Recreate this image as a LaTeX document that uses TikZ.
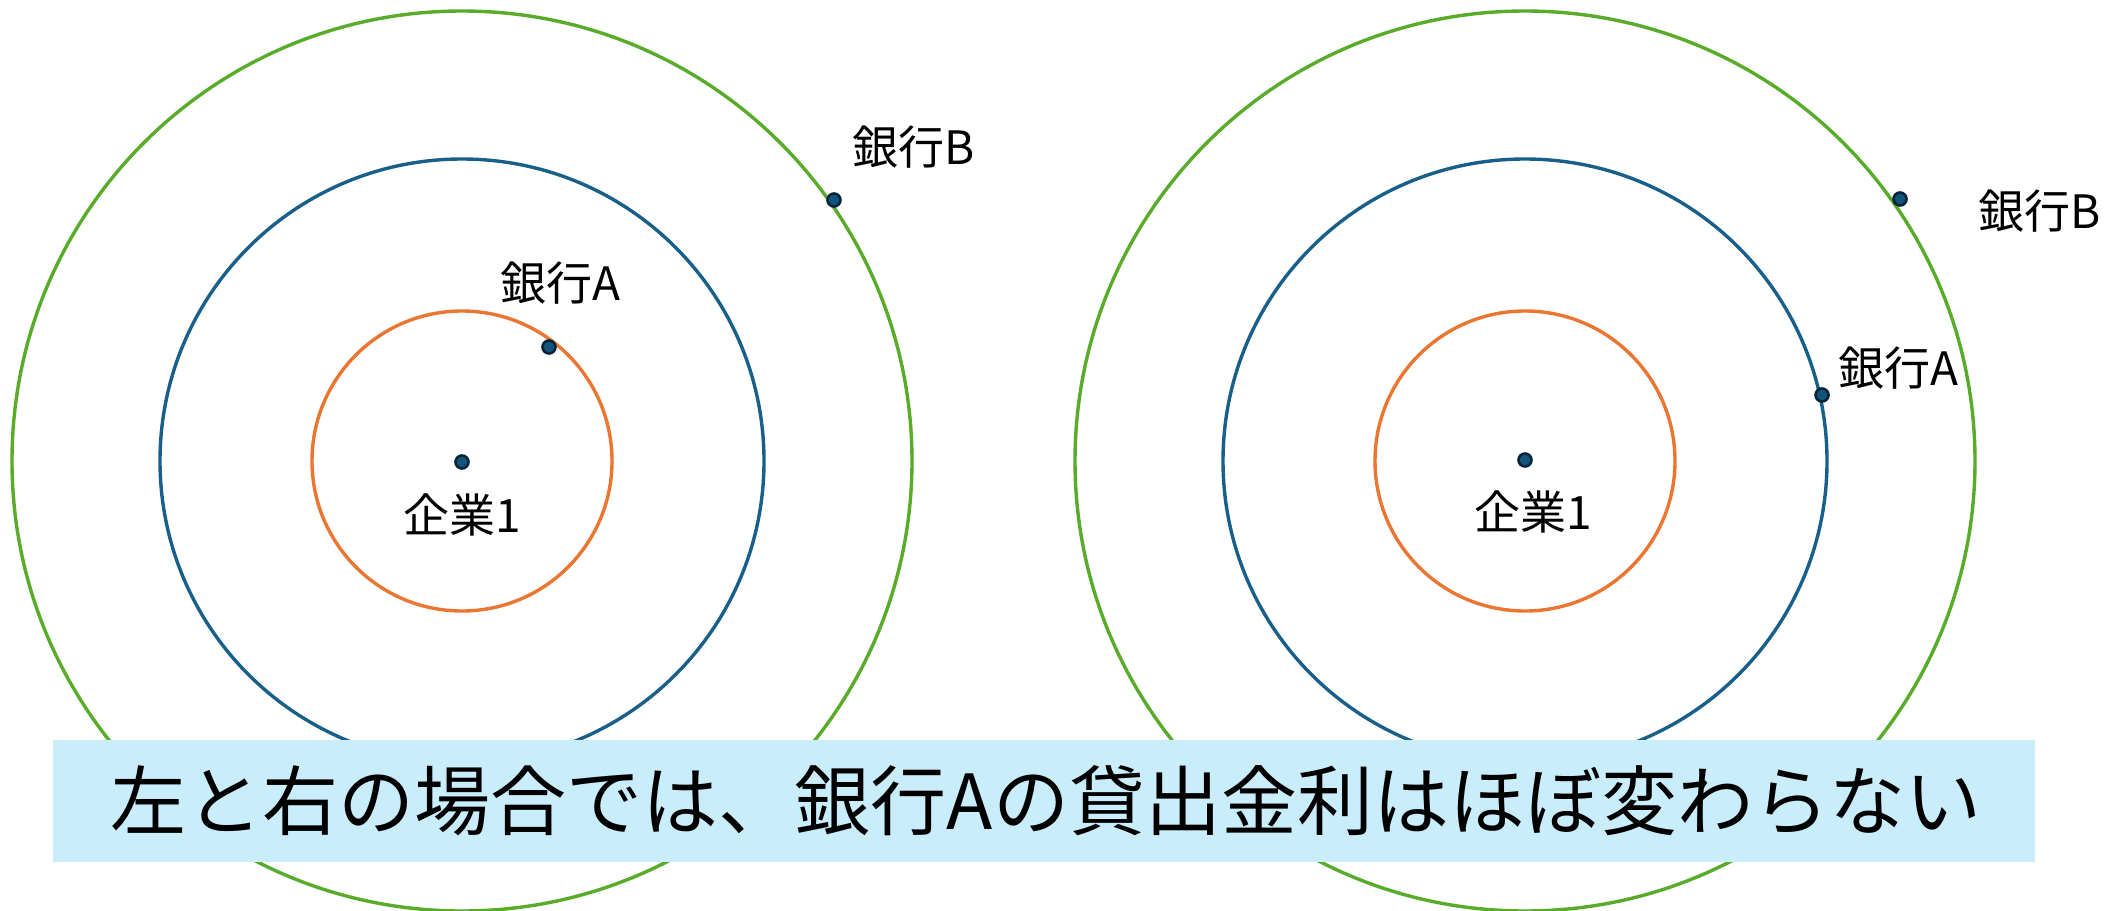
\documentclass[tikz,border=0pt]{standalone}
\usepackage{fontspec}
\setmainfont{Noto Sans CJK JP}
\definecolor{ringO}{RGB}{235,118,50}
\definecolor{ringB}{RGB}{24,96,138}
\definecolor{ringG}{RGB}{88,172,42}
\definecolor{dotfill}{RGB}{18,84,125}
\definecolor{dotline}{RGB}{8,36,56}
\definecolor{banner}{RGB}{202,237,251}
\begin{document}
\begin{tikzpicture}[x=1pt,y=-1pt,
  ring/.style={draw,line width=3.4pt},
  pt/.style={circle,draw=dotline,fill=dotfill,line width=2.6pt,inner sep=0pt,minimum size=13pt},
  lbl/.style={font=\fontsize{46}{54}\selectfont,text=black,inner sep=0pt},
  bannerbox/.style={fill=banner,draw=none}]
\useasboundingbox (0,0) rectangle (2111,910);
\fill[white] (0,0) rectangle (2111,910);
% left
\coordinate (cL) at (462,461);
\draw[ring,ringG] (cL) circle (450);
\draw[ring,ringB] (cL) circle (302);
\draw[ring,ringO] (cL) circle (150);
\node[pt] (fL) at (462,462) {};
\node[lbl] (tfL) at (462,515) {企業1};
\node[pt] (aL) at (549,347) {};
\node[lbl] (taL) at (560,283) {銀行A};
\node[pt] (bL) at (834,200) {};
\node[lbl] (tbL) at (914,147) {銀行B};
% right
\coordinate (cR) at (1525,461);
\draw[ring,ringG] (cR) circle (450);
\draw[ring,ringB] (cR) circle (302);
\draw[ring,ringO] (cR) circle (150);
\node[pt] (fR) at (1525,460) {};
\node[lbl] (tfR) at (1533,512) {企業1};
\node[pt] (aR) at (1822,395) {};
\node[lbl] (taR) at (1898,368) {銀行A};
\node[pt] (bR) at (1900,199) {};
\node[lbl] (tbR) at (2040,211) {銀行B};
% banner
\fill[bannerbox] (53,740) rectangle (2035,862);
\node[inner sep=0pt,text=black,font=\fontsize{76}{90}\selectfont] (msg) at (1046,801) {左と右の場合では、銀行Aの貸出金利はほぼ変わらない};
\end{tikzpicture}
\end{document}
